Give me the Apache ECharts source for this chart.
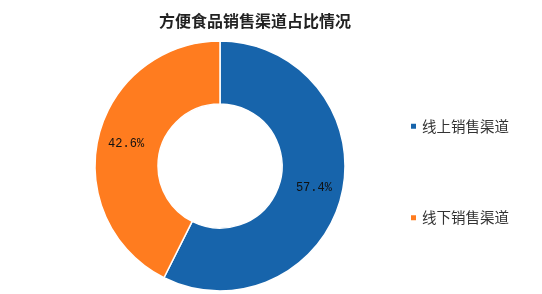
<!DOCTYPE html>
<html><head><meta charset="utf-8">
<script src="https://cdn.jsdelivr.net/npm/echarts@6/dist/echarts.min.js"></script>
<style>html,body{margin:0;padding:0;background:#fff}#c{width:542px;height:294px}</style>
</head><body><div id="c"></div>
<script>
const titleText = '方便食品销售渠道占比情况';
const categories = ['线上销售渠道', '线下销售渠道'];
const values = [57.4, 42.6];
const colors = ['#1764ab', '#ff7c1f'];

const chart = echarts.init(document.getElementById('c'));
chart.setOption({
  animation: false,
  title: {
    text: titleText, left: 250, top: 8, textAlign: 'center',
    textStyle: {fontSize: 16, fontWeight: 'bold', color: '#222', fontFamily: 'Noto Sans CJK SC'}
  },
  legend: {
    orient: 'vertical', left: 404, top: 114, itemGap: 77,
    itemWidth: 7, itemHeight: 7, icon: 'rect',
    textStyle: {fontSize: 14.5, color: '#333', fontFamily: 'Noto Sans CJK SC'},
    data: categories
  },
  series: [{
    type: 'pie', center: [220, 166], radius: [62, 125], startAngle: 90, clockwise: true,
    itemStyle: {borderColor: '#fff', borderWidth: 1.5},
    label: {
      position: 'inside', formatter: p => p.value.toFixed(1) + '%',
      fontSize: 12, color: '#111', fontFamily: 'Liberation Mono'
    },
    labelLine: {show: false},
    data: categories.map((c, i) => ({name: c, value: values[i], itemStyle: {color: colors[i]}}))
  }]
});
</script></body></html>
